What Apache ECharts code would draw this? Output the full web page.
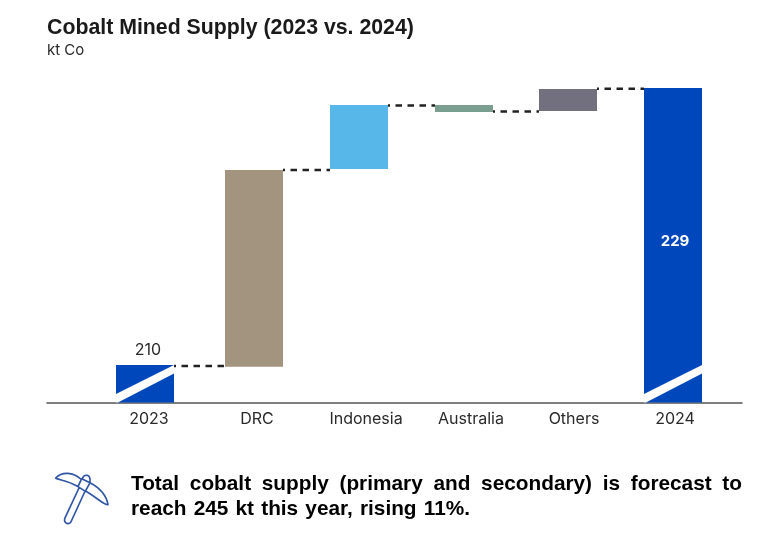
<!DOCTYPE html>
<html><head><meta charset="utf-8">
<style>html,body{margin:0;padding:0;background:#fff}#c{width:776px;height:547px}</style>
<script src="https://cdn.jsdelivr.net/npm/echarts@6/dist/echarts.min.js"></script>
</head><body><div id="c"></div>
<script>
const categories = ['2023','DRC','Indonesia','Australia','Others','2024'];
const barLow  = [207.43, 209.89, 223.45, 227.36, 227.43, 207.43];
const barHigh = [210, 223.38, 227.84, 227.84, 228.93, 229];
const connectorLevels = [209.93, 223.38, 227.8, 227.4, 228.95];
const barColors = ['#0047bb','#a3947f','#57b7e9','#7a9f90','#72707f','#0047bb'];
const barLabels = ['210','','','','','229'];
const striped = [true,false,false,false,false,true];
const labelNudge = [1,4,8,8,6,2];
const barNudge = [-3,1,1,1,0,0];
const footerLines = ['Total cobalt supply (primary and secondary) is forecast to','reach 245 kt this year, rising 11%.'];

const FONT = 'Inter, "Liberation Sans", sans-serif';
const BW = 58;
const mc = document.createElement('canvas').getContext('2d');
function justified(line, x, y, width, font){
  mc.font = font;
  const words = line.split(' ');
  const sum = words.reduce((a,w)=>a+mc.measureText(w).width,0);
  const gap = (width-sum)/(words.length-1);
  let cx = x; const out=[];
  for(const w of words){
    out.push({type:'text',x:cx,y:y,style:{text:w,font:font,fill:'#000',textVerticalAlign:'middle'}});
    cx += mc.measureText(w).width+gap;
  }
  return out;
}
const footFont = 'bold 20.8px "Liberation Sans", sans-serif';
const rich = {};
labelNudge.forEach((n,i)=>{rich['l'+i]={padding:[0,0,0,2*n],fontFamily:FONT,fontSize:16,color:'#2a2a2a'};});
const iconPath = 'M92 33 C70 12 36 10 17 30 C20 35 52 36 84 56 M120 44 C150 60 170 85 174 110 C166 114 145 92 108 70 M95 32 L120 44 L106 70 L84 56 Z M98 30 Q102 20 112 22 Q122 26 120 42 M87 60 L44 152 Q42 164 52 167 Q60 168 64 159 L104 72';

const chart = echarts.init(document.getElementById('c'),null,{renderer:'canvas'});
chart.setOption({
  animation:false,
  backgroundColor:'#fff',
  title:[
    {text:'Cobalt Mined Supply (2023 vs. 2024)',left:42,top:13,textStyle:{fontFamily:'"Liberation Sans"',fontWeight:'bold',fontSize:21.3,color:'#1a1a1a'}},
    {text:'kt Co',left:42,top:38,textStyle:{fontFamily:FONT,fontWeight:'normal',fontSize:15,color:'#2a2a2a'}}
  ],
  grid:[
    {left:95.5,right:50.5,top:60.5,bottom:144.5},
    {left:47,right:34,top:60,bottom:144.5}
  ],
  xAxis:[
    {type:'category',gridIndex:0,data:categories,axisLine:{show:false},axisTick:{show:false},
     axisLabel:{margin:8.5,interval:0,formatter:(v,i)=>`{l${i}|${v}}`,rich:rich}},
    {type:'value',gridIndex:1,min:0,max:1,axisLine:{show:true,onZero:false,lineStyle:{color:'#555',width:1.5}},axisTick:{show:false},axisLabel:{show:false},splitLine:{show:false}}
  ],
  yAxis:[
    {type:'value',gridIndex:0,min:207.43,max:230.89,show:false,splitLine:{show:false}},
    {type:'value',gridIndex:1,min:0,max:1,show:false,splitLine:{show:false}}
  ],
  series:[
    {type:'custom',xAxisIndex:0,yAxisIndex:0,z:3,clip:false,
     data:categories.map((c,i)=>[i,barLow[i],barHigh[i]]),
     encode:{x:0,y:[1,2]},
     renderItem(params,api){
       const i=api.value(0);
       const a=api.coord([i,api.value(1)]), b=api.coord([i,api.value(2)]);
       const x=a[0]-BW/2+barNudge[i];
       const children=[{type:'rect',shape:{x:x,y:b[1],width:BW,height:a[1]-b[1]},style:{fill:barColors[i]}}];
       if(striped[i]){
         const y0=a[1];
         children.push({type:'polygon',shape:{points:[[x,y0-8.5],[x+BW,y0-37.5],[x+BW,y0-29],[x+2,y0],[x,y0]]},style:{fill:'#fff'}});
       }
       if(barLabels[i]){
         const inside = i===5;
         children.push({type:'text',x:inside?x+BW/2+2:x+BW/2+3,y:inside?241:350.5,style:{text:barLabels[i],font:(inside?'bold 15px ':'16px ')+FONT,fill:inside?'#fff':'#2a2a2a',textAlign:'center',textVerticalAlign:'middle'}});
       }
       return {type:'group',children};
     }},
    {type:'custom',xAxisIndex:0,yAxisIndex:0,z:2,clip:false,
     data:connectorLevels.map((v,i)=>[i,v]),
     encode:{x:0,y:1},
     renderItem(params,api){
       const i=api.value(0);
       const p=api.coord([i,api.value(1)]), q=api.coord([i+1,api.value(1)]);
       return {type:'line',shape:{x1:p[0]+BW/2+barNudge[i],y1:p[1],x2:q[0]-BW/2+barNudge[i+1],y2:p[1]},
         style:{stroke:'#222',lineWidth:2.5,lineDash:[6.5,5.5],lineDashOffset:4.5,fill:null}};
     }},
    {type:'custom',coordinateSystem:'none',silent:true,z:5,data:[0],
     renderItem(){
       return {type:'path',x:50,y:468,scaleX:1/3,scaleY:1/3,shape:{pathData:iconPath},
         style:{stroke:'#2f55a4',lineWidth:5,fill:'none',lineJoin:'round',lineCap:'round'}};
     }}
  ],
  graphic:[
    ...justified(footerLines[0],131,484,611,footFont),
    ...justified(footerLines[1],131,509,339,footFont)
  ]
});
</script></body></html>
